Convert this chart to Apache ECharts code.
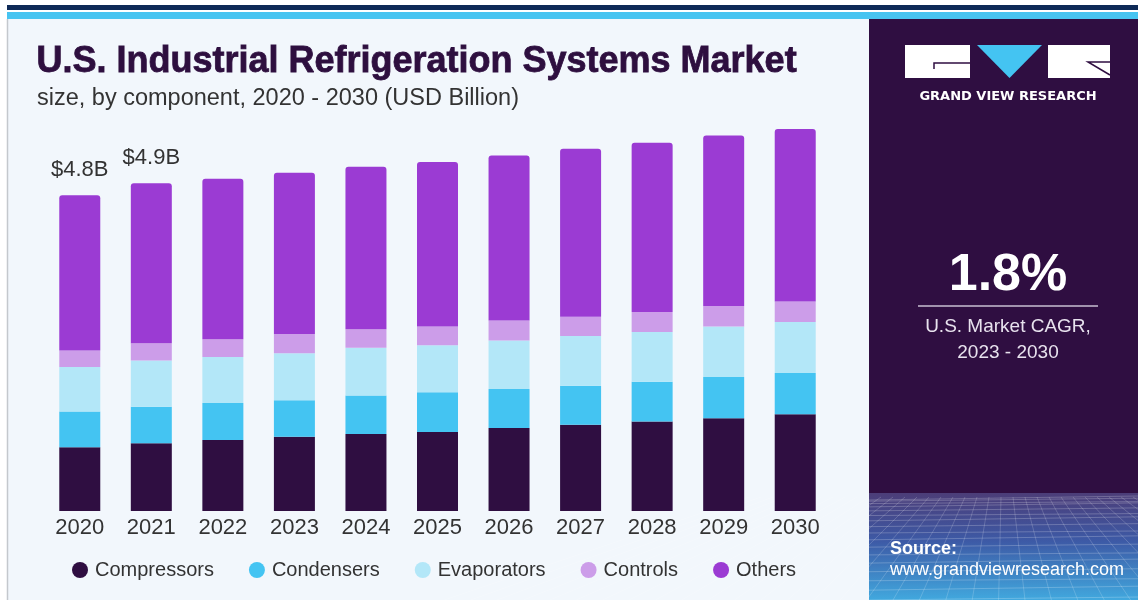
<!DOCTYPE html>
<html>
<head>
<meta charset="utf-8">
<script src="https://cdn.jsdelivr.net/npm/echarts@6/dist/echarts.min.js"></script>
<style>
html,body{margin:0;padding:0;background:#fff;}
#chart{width:1138px;height:600px;}
</style>
</head>
<body>
<div id="chart"></div>
<script>
const years = ['2020','2021','2022','2023','2024','2025','2026','2027','2028','2029','2030'];
const compressors = [0.96,1.02,1.07,1.12,1.16,1.19,1.25,1.30,1.35,1.40,1.46];
const condensers  = [0.54,0.55,0.56,0.55,0.58,0.60,0.59,0.59,0.60,0.62,0.62];
const evaporators = [0.67,0.70,0.69,0.71,0.72,0.71,0.73,0.75,0.75,0.76,0.77];
const controls    = [0.25,0.26,0.27,0.29,0.28,0.28,0.30,0.29,0.30,0.31,0.31];
const others      = [2.34,2.41,2.42,2.43,2.45,2.48,2.49,2.53,2.55,2.57,2.60];
const totalLabels = ['$4.8B','$4.9B','','','','','','','','',''];

const seriesNames = ['Compressors','Condensers','Evaporators','Controls','Others'];
const seriesData = [compressors, condensers, evaporators, controls, others];
const colors = ['#2f0e41','#44c4f2','#b3e7f8','#cc9de9','#9b3bd3'];

const sans = "'Liberation Sans',Arial,sans-serif";

// decorative mesh for the bottom-right panel
const mesh = [];
for (let i = 0; i <= 16; i++) {
  const y = 500 + Math.pow(i / 16, 1.6) * 100;
  mesh.push({type:'line', shape:{x1:869, y1:y, x2:1138, y2:y - 4 + (i%3)}, style:{stroke:'rgba(255,255,255,0.22)', lineWidth:1}, z:-5, silent:true});
}
for (let j = -10; j <= 26; j++) {
  const xTop = 869 + j * 12;
  const xBot = 1003 + (xTop - 1003) * 2.2;
  mesh.push({type:'line', shape:{x1:xTop, y1:497, x2:xBot, y2:600}, style:{stroke:'rgba(255,255,255,0.18)', lineWidth:1}, z:-5, silent:true});
}

const chart = echarts.init(document.getElementById('chart'));
chart.setOption({
  animation: false,
  backgroundColor: '#ffffff',
  grid: {left: 44, right: 307, top: 113, bottom: 89, containLabel: false},
  xAxis: {
    type: 'category',
    data: years,
    axisLine: {show: false},
    axisTick: {show: false},
    axisLabel: {color: '#333333', fontSize: 22, fontFamily: sans, margin: 6, interval: 0}
  },
  yAxis: {type: 'value', min: 0, max: 6, show: false, splitLine: {show: false}},
  legend: {
    data: seriesNames,
    left: 67, top: 555,
    icon: 'circle', itemWidth: 16, itemHeight: 16, itemGap: 35,
    textStyle: {color: '#333333', fontSize: 20, fontFamily: sans, padding: [0,0,0,2]}
  },
  series: seriesNames.map((name, k) => ({
    name: name,
    type: 'bar',
    stack: 'total',
    barWidth: 41,
    data: seriesData[k],
    itemStyle: {color: colors[k], borderRadius: k === 4 ? [3,3,0,0] : 0},
    label: k === 4 ? {
      show: true, position: 'top', distance: 14,
      color: '#333333', fontSize: 22, fontFamily: sans,
      formatter: p => totalLabels[p.dataIndex]
    } : {show: false}
  })),
  graphic: [
    {type:'rect', shape:{x:8, y:19, width:862, height:581}, style:{fill:'#f2f7fc'}, z:-10, silent:true},
    {type:'line', shape:{x1:7.5, y1:19, x2:7.5, y2:600}, style:{stroke:'#c4c8cd', lineWidth:1.5}, z:-9, silent:true},
    {type:'rect', shape:{x:7, y:5, width:1131, height:5}, style:{fill:'#0e2a57'}, z:-9, silent:true},
    {type:'rect', shape:{x:7, y:12, width:1131, height:7}, style:{fill:'#47c4f1'}, z:-9, silent:true},
    {type:'rect', shape:{x:869, y:19, width:269, height:475}, style:{fill:'#2f0e41'}, z:-9, silent:true},
    {type:'rect', shape:{x:869, y:493, width:269, height:107},
      style:{fill: new echarts.graphic.LinearGradient(0,0,0,1,[
        {offset:0, color:'#4c3d78'}, {offset:0.45, color:'#3d5aa6'}, {offset:1, color:'#41a8de'}])},
      z:-8, silent:true},
    ...mesh,
    // title texts
    {type:'text', left: 36, top: 44, style:{text:'U.S. Industrial Refrigeration Systems Market', fill:'#2e0f3f', stroke:'#2e0f3f', lineWidth:0.8, font:"bold 36px 'Liberation Sans', Arial, sans-serif"}, z:10},
    {type:'text', left: 37, top: 87, style:{text:'size, by component, 2020 - 2030 (USD Billion)', fill:'#333333', font:"23.5px 'Liberation Sans', Arial, sans-serif"}, z:10},
    // logo
    {type:'rect', shape:{x:905, y:45, width:65, height:33}, style:{fill:'#ffffff'}, z:10},
    {type:'polyline', shape:{points:[[970,63],[934,63],[934,69]]}, style:{stroke:'#2f0e41', lineWidth:1.5, fill:null}, z:11},
    {type:'polygon', shape:{points:[[977,45],[1042,45],[1009.5,78]]}, style:{fill:'#44c4f2'}, z:10},
    {type:'rect', shape:{x:1048, y:45, width:62, height:33}, style:{fill:'#ffffff'}, z:10},
    {type:'polyline', shape:{points:[[1110,62],[1088,62],[1110,75]]}, style:{stroke:'#2f0e41', lineWidth:1.5, fill:null}, z:11},
    {type:'text', x: 1008, y: 97, style:{text:'GRAND VIEW RESEARCH', fill:'#ffffff', font:"bold 13px 'DejaVu Sans', sans-serif", textAlign:'center', textVerticalAlign:'middle'}, z:10},
    // CAGR
    {type:'text', x: 1008, y: 276, style:{text:'1.8%', fill:'#ffffff', font:"bold 52px 'Liberation Sans', Arial, sans-serif", textAlign:'center', textVerticalAlign:'middle'}, z:10},
    {type:'line', shape:{x1:918, y1:306, x2:1098, y2:306}, style:{stroke:'#c9bfd2', lineWidth:1.5}, z:10},
    {type:'text', x: 1008, y: 327, style:{text:'U.S. Market CAGR,', fill:'#e8e2ee', font:"19px 'Liberation Sans', Arial, sans-serif", textAlign:'center', textVerticalAlign:'middle'}, z:10},
    {type:'text', x: 1008, y: 353, style:{text:'2023 - 2030', fill:'#e8e2ee', font:"19px 'Liberation Sans', Arial, sans-serif", textAlign:'center', textVerticalAlign:'middle'}, z:10},
    // source
    {type:'text', left: 890, top: 540, style:{text:'Source:', fill:'#ffffff', font:"bold 18px 'Liberation Sans', Arial, sans-serif"}, z:10},
    {type:'text', left: 890, top: 561, style:{text:'www.grandviewresearch.com', fill:'#ffffff', font:"18px 'Liberation Sans', Arial, sans-serif"}, z:10}
  ]
});
</script>
</body>
</html>
